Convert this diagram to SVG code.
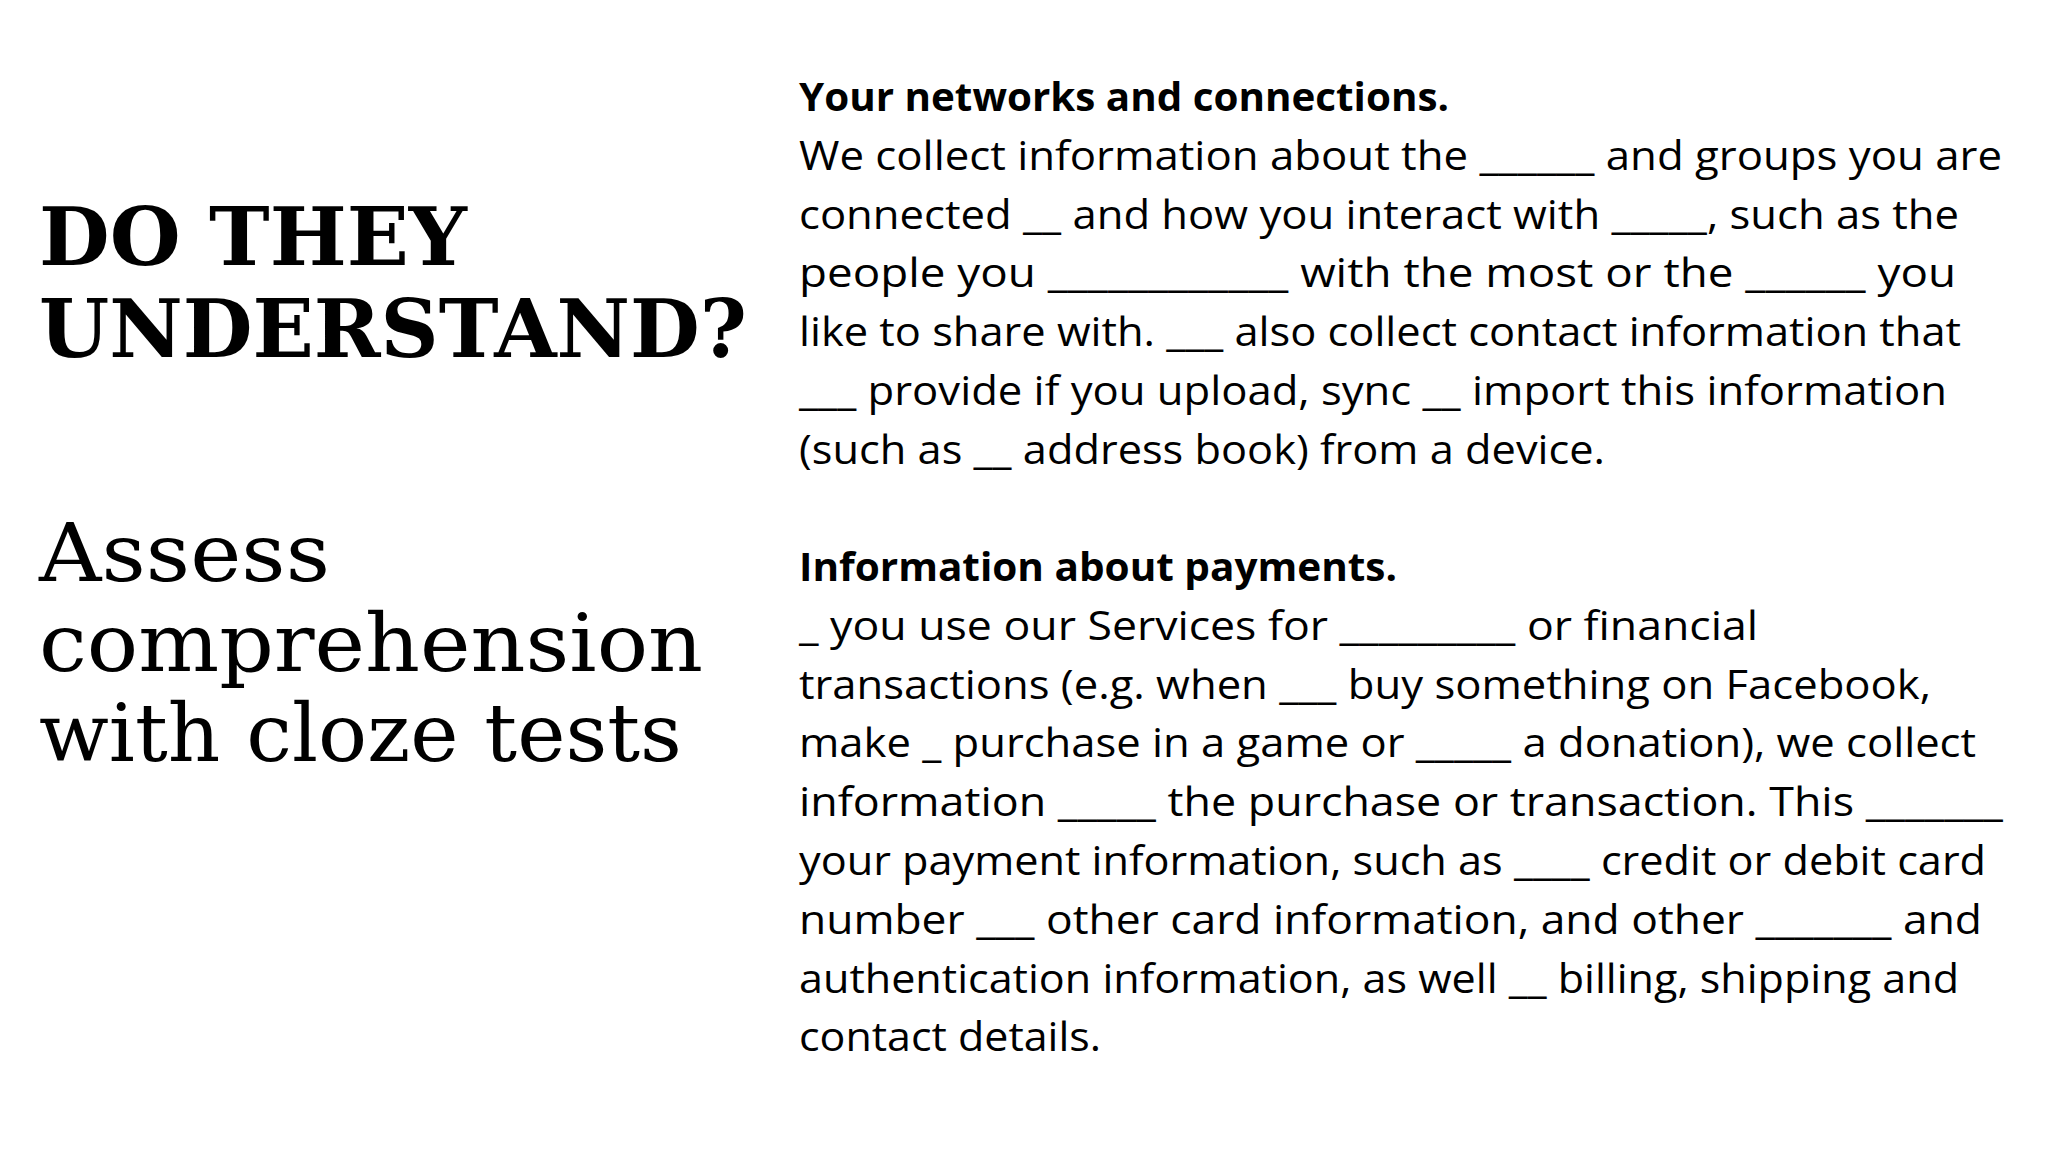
<svg xmlns="http://www.w3.org/2000/svg" width="2048" height="1152" viewBox="0 0 2048 1152">
<style>
.t{font-family:"Open Sans","Liberation Sans",sans-serif;font-size:40px;fill:#000}
.b{font-weight:bold}
.h{font-family:"DejaVu Serif","Liberation Serif",serif;font-weight:bold;font-size:80px;fill:#000}
.s{font-family:"DejaVu Serif","Liberation Serif",serif;font-size:80px;fill:#000}
</style>
<rect width="2048" height="1152" fill="#fff"/>
<g id="title">
<text class="h" x="39" y="265" textLength="428" lengthAdjust="spacingAndGlyphs">DO THEY</text>
<text class="h" x="39" y="357" textLength="708" lengthAdjust="spacingAndGlyphs">UNDERSTAND?</text>
</g>
<g id="subtitle">
<text class="s" x="39" y="581" textLength="291" lengthAdjust="spacingAndGlyphs">Assess</text>
<text class="s" x="39" y="671" textLength="664" lengthAdjust="spacingAndGlyphs">comprehension</text>
<text class="s" x="39" y="761" textLength="643" lengthAdjust="spacingAndGlyphs">with cloze tests</text>
</g>
<g id="passage1">
<text class="t b" x="799" y="111" textLength="650" lengthAdjust="spacingAndGlyphs">Your networks and connections.</text>
<text class="t" x="799" y="170" textLength="1203" lengthAdjust="spacingAndGlyphs">We collect information about the ______ and groups you are</text>
<text class="t" x="799" y="229" textLength="1160" lengthAdjust="spacingAndGlyphs">connected __ and how you interact with _____, such as the</text>
<text class="t" x="799" y="287" textLength="1157" lengthAdjust="spacingAndGlyphs">people you ____________ with the most or the ______ you</text>
<text class="t" x="799" y="346" textLength="1162" lengthAdjust="spacingAndGlyphs">like to share with. ___ also collect contact information that</text>
<text class="t" x="799" y="405" textLength="1148" lengthAdjust="spacingAndGlyphs">___ provide if you upload, sync __ import this information</text>
<text class="t" x="799" y="464" textLength="806" lengthAdjust="spacingAndGlyphs">(such as __ address book) from a device.</text>
</g>
<g id="passage2">
<text class="t b" x="799" y="581" textLength="598" lengthAdjust="spacingAndGlyphs">Information about payments.</text>
<text class="t" x="799" y="640" textLength="959" lengthAdjust="spacingAndGlyphs">_ you use our Services for _________ or financial</text>
<text class="t" x="799" y="699" textLength="1132" lengthAdjust="spacingAndGlyphs">transactions (e.g. when ___ buy something on Facebook,</text>
<text class="t" x="799" y="757" textLength="1177" lengthAdjust="spacingAndGlyphs">make _ purchase in a game or _____ a donation), we collect</text>
<text class="t" x="799" y="816" textLength="1204" lengthAdjust="spacingAndGlyphs">information _____ the purchase or transaction. This _______</text>
<text class="t" x="799" y="875" textLength="1187" lengthAdjust="spacingAndGlyphs">your payment information, such as ____ credit or debit card</text>
<text class="t" x="799" y="934" textLength="1183" lengthAdjust="spacingAndGlyphs">number ___ other card information, and other _______ and</text>
<text class="t" x="799" y="993" textLength="1160" lengthAdjust="spacingAndGlyphs">authentication information, as well __ billing, shipping and</text>
<text class="t" x="799" y="1051" textLength="302" lengthAdjust="spacingAndGlyphs">contact details.</text>
</g>
</svg>
